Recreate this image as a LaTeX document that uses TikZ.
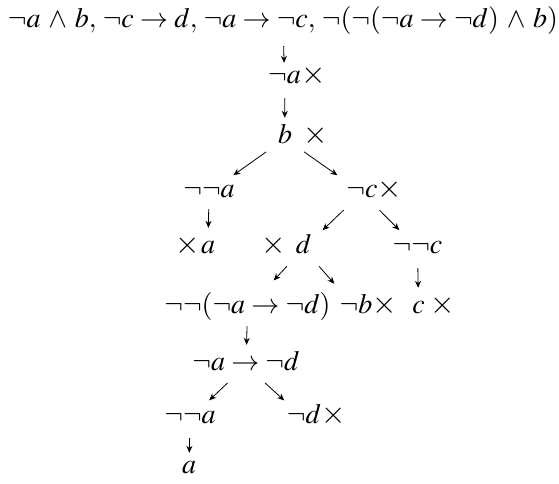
\documentclass[tikz,border=0pt]{standalone}
\usepackage{mathptmx}
\usetikzlibrary{arrows.meta,positioning}

\begin{document}
\begin{tikzpicture}[x=1pt, y=-1pt,
  font=\fontsize{28}{33}\selectfont,
  form/.style ={inner xsep=6pt, inner ysep=0pt, anchor=base,
                text height=17pt, text depth=8pt},
  cross/.style={inner sep=0pt, scale=1.12},
  edge/.style ={-{Stealth[length=7pt,width=6pt]}, line width=0.8pt,
                shorten <=7pt, shorten >=8pt},
]
\useasboundingbox (0,0) rectangle (559,483);

% === Formulas ===
\node[form] (root) at (283,27)
  {$\medmuskip=5mu
    \neg a\wedge b,\, \neg c\to d,\, \neg a\to\neg c,\, \neg(\neg(\neg a\to\neg d)\wedge b)$};
\node[form] (na)    at (284.5,83) {$\neg a$};
\node[form] (b)     at (285,143)  {$b$};
\node[form] (nna)   at (209,197)  {$\neg\neg a$};
\node[form] (nc)    at (362,197)  {$\neg c$};
\node[form] (a)     at (208,253)  {$a$};
\node[form] (d)     at (303.5,253){$d$};
\node[form] (nnc)   at (417.5,253){$\neg\neg c$};
\node[form] (nnimp) at (247.5,313){$\neg\neg(\neg a\to\neg d)$};
\node[form] (nb)    at (356,313)  {$\neg b$};
\node[form] (c)     at (418.5,313){$c$};
\node[form] (imp)   at (246,370)  {$\neg a\to\neg d$};
\node[form] (nnab)  at (190,423)  {$\neg\neg a$};
\node[form] (nd)    at (304,423)  {$\neg d$};
\node[form] (ab)    at (189,473)  {$a$};

% === Closed branches ===
\node[cross, base right=-6pt of na]  (xna) {$\times$};
\node[cross, base right=5pt of b]    (xb)  {$\times$};
\node[cross, base right=-6pt of nc]  (xnc) {$\times$};
\node[cross, base left=-5pt of a]    (xa)  {$\times$};
\node[cross, base left=3pt of d]     (xd)  {$\times$};
\node[cross, base right=-6pt of nb]  (xnb) {$\times$};
\node[cross, base right=-1pt of c]   (xc)  {$\times$};
\node[cross, base right=-6pt of nd]  (xnd) {$\times$};

% === Edges ===
\draw[edge, shorten <=11pt, shorten >=3pt] (root) -- (na);
\draw[edge] (na) -- (b);
\draw[edge] (b) -- (nna);
\draw[edge] (b) -- (nc);
\draw[edge, shorten <=4pt] (nna) -- (a);
\draw[edge] (nc) -- (d);
\draw[edge] (nc) -- (nnc);
\draw[edge, shorten >=21pt] (d) -- (nnimp);
\draw[edge, shorten >=16pt] (d) -- (nb);
\draw[edge] (nnc) -- (c);
\draw[edge, shorten <=5pt] (nnimp) -- (imp);
\draw[edge] (imp) -- (nnab);
\draw[edge] (imp) -- (nd);
\draw[edge, shorten >=3pt] (nnab) -- (ab);

\end{tikzpicture}
\end{document}
